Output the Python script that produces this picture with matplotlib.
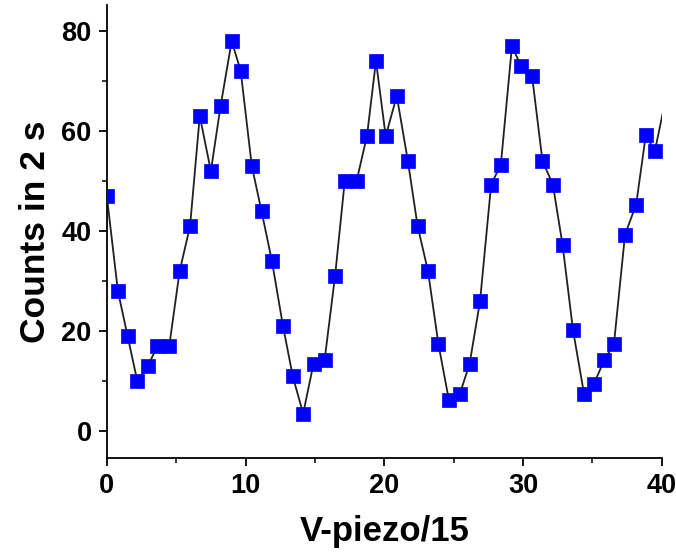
import numpy as np
import matplotlib
matplotlib.use("Agg")
import matplotlib.pyplot as plt
from matplotlib.ticker import MultipleLocator

# values (V-piezo/15 vs counts)
x_vals = [0.0, 0.8, 1.5, 2.2, 2.95, 3.65, 4.5, 5.25, 6.0, 6.7,
          7.5, 8.2, 9.0, 9.65, 10.45, 11.15, 11.9, 12.7, 13.4, 14.15,
          14.9, 15.7, 16.45, 17.15, 18.0, 18.75, 19.4, 20.1, 20.9, 21.7,
          22.4, 23.15, 23.9, 24.65, 25.45, 26.15, 26.9, 27.7, 28.4, 29.2,
          29.85, 30.65, 31.4, 32.15, 32.85, 33.6, 34.4, 35.1, 35.85, 36.55,
          37.35, 38.15, 38.85, 39.5]
y_vals = [47, 28, 19, 10, 13, 17, 17, 32, 41, 63,
          52, 65, 78, 72, 53, 44, 34, 21, 11, 3.5,
          13.5, 14.3, 31, 50, 50, 59, 74, 59, 67, 54,
          41, 32, 17.4, 6.3, 7.5, 13.5, 26, 49.3, 53.3, 77,
          73, 71, 54, 49.3, 37.2, 20.2, 7.4, 9.4, 14.2, 17.4,
          39.3, 45.3, 59.2, 56]
# next reading lies just past the axis end, only its line shows
x_next, y_next = 40.25, 66

plt.rcParams['font.family'] = ['Liberation Sans', 'DejaVu Sans']
plt.rcParams['font.weight'] = 'bold'

fig = plt.figure(figsize=(6.76, 5.52), dpi=100)
ax = fig.add_axes([0.158, 0.170, 0.821, 0.821])

ax.plot(x_vals + [x_next], y_vals + [y_next], color="#202020", lw=1.3, zorder=2)
ax.plot(x_vals, y_vals, ls="none", marker="s", ms=10, mfc="#0000ff",
        mec="#0000ff", mew=0.5, zorder=3)

ax.set_xlim(0, 40)
ax.set_ylim(-5.4, 85.2)
ax.xaxis.set_major_locator(MultipleLocator(10))
ax.xaxis.set_minor_locator(MultipleLocator(5))
ax.yaxis.set_major_locator(MultipleLocator(20))
ax.yaxis.set_minor_locator(MultipleLocator(10))

for side in ("top", "right"):
    ax.spines[side].set_visible(False)
for side in ("left", "bottom"):
    ax.spines[side].set_linewidth(1.3)

ax.tick_params(which="major", direction="out", length=6, width=1.3, labelsize=19.5, pad=5)
ax.tick_params(which="minor", direction="out", length=3.5, width=1.1)
for lab in ax.get_xticklabels() + ax.get_yticklabels():
    lab.set_fontweight("bold")

ax.set_xlabel("V-piezo/15", fontsize=25, fontweight="bold", labelpad=11)
ax.set_ylabel("Counts in 2 s", fontsize=25.5, fontweight="bold", labelpad=7)

fig.savefig("out.png", dpi=100)
